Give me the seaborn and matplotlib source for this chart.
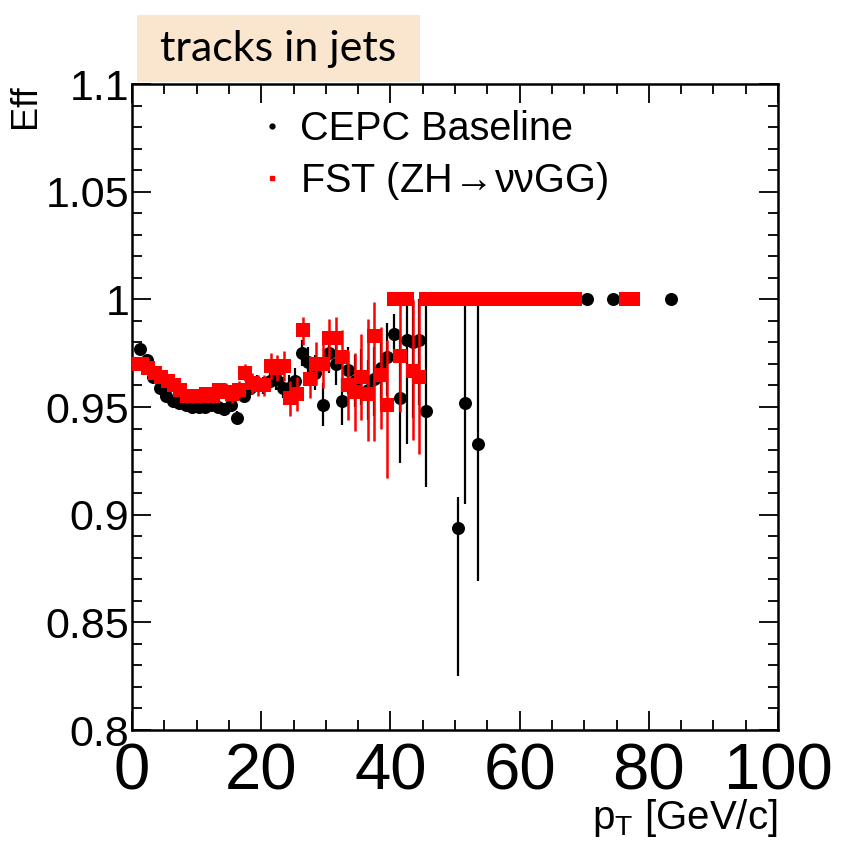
import numpy as np
import pandas as pd
import matplotlib
matplotlib.use("Agg")
import matplotlib.pyplot as plt
from matplotlib.lines import Line2D
from matplotlib.patches import Rectangle
from matplotlib.ticker import MultipleLocator
import seaborn as sns

# ---- CEPC Baseline efficiency vs pT ----
base_pt = [1.3, 2.3, 3.3, 4.3, 5.3, 6.3, 7.3, 8.3, 9.3, 10.3, 11.3, 12.3, 13.3, 14.3,
           15.3, 16.3, 17.3, 18.3, 19.3, 20.3, 21.3, 22.3, 23.3, 24.3, 25.3, 26.3,
           27.3, 28.3, 29.5, 30.5, 31.5, 32.5, 33.5, 34.5, 35.5, 36.5, 37.5, 38.5,
           39.5, 40.5, 41.5, 42.5, 43.5, 44.5, 45.5, 46.5, 47.5, 48.5, 49.5, 50.5,
           51.5, 52.5, 53.5, 54.5, 55.5, 56.5, 57.5, 58.5, 59.5, 60.5, 61.5, 62.5,
           63.5, 64.5, 65.5, 66.5, 67.5, 68.5, 70.5, 74.5, 83.5]
base_eff = [0.977, 0.972, 0.964, 0.959, 0.955, 0.953, 0.952, 0.951, 0.950, 0.950,
            0.950, 0.951, 0.950, 0.949, 0.951, 0.945, 0.955, 0.959, 0.961, 0.960,
            0.962, 0.963, 0.959, 0.959, 0.962, 0.975, 0.971, 0.966, 0.951, 0.975,
            0.970, 0.9526, 0.967, 0.962, 0.964, 0.958, 0.963, 0.968, 0.973, 0.984,
            0.954, 0.981, 0.980, 0.981, 0.948, 1.0, 1.0, 1.0, 1.0, 0.894,
            0.952, 1.0, 0.933, 1.0, 1.0, 1.0, 1.0, 1.0, 1.0, 1.0, 1.0, 1.0,
            1.0, 1.0, 1.0, 1.0, 1.0, 1.0, 1.0, 1.0, 1.0]
base_err_lo = [0.002, 0.002, 0.002, 0.002, 0.002, 0.002, 0.002, 0.002, 0.002, 0.002,
               0.002, 0.002, 0.002, 0.003, 0.003, 0.003, 0.003, 0.003, 0.004, 0.004,
               0.004, 0.005, 0.005, 0.006, 0.006, 0.006, 0.007, 0.008, 0.010, 0.009,
               0.010, 0.011, 0.011, 0.012, 0.013, 0.014, 0.017, 0.016, 0.018, 0.012,
               0.030, 0.048, 0.035, 0.030, 0.035, 0.0, 0.0, 0.0, 0.0, 0.069,
               0.047, 0.0, 0.064, 0.0, 0.0, 0.0, 0.0, 0.0, 0.0, 0.0, 0.0, 0.0,
               0.0, 0.0, 0.0, 0.0, 0.0, 0.0, 0.0, 0.0, 0.0]
base_err_hi = [0.002, 0.002, 0.002, 0.002, 0.002, 0.002, 0.002, 0.002, 0.002, 0.002,
               0.002, 0.002, 0.002, 0.003, 0.003, 0.003, 0.003, 0.003, 0.004, 0.004,
               0.004, 0.005, 0.005, 0.006, 0.006, 0.006, 0.007, 0.008, 0.010, 0.009,
               0.010, 0.011, 0.011, 0.012, 0.013, 0.014, 0.015, 0.014, 0.016, 0.009,
               0.030, 0.019, 0.020, 0.019, 0.052, 0.0, 0.0, 0.0, 0.0, 0.014,
               0.048, 0.0, 0.067, 0.0, 0.0, 0.0, 0.0, 0.0, 0.0, 0.0, 0.0, 0.0,
               0.0, 0.0, 0.0, 0.0, 0.0, 0.0, 0.0, 0.0, 0.0]

# ---- FST (ZH -> vvGG) efficiency vs pT ----
fst_pt = [0.5, 1.5, 2.5, 3.5, 4.5, 5.5, 6.5, 7.5, 8.5, 9.5, 10.5, 11.5, 12.5, 13.5,
          14.5, 15.5, 16.5, 17.5, 18.5, 19.5, 20.5, 21.5, 22.5, 23.5, 24.5, 25.5,
          26.5, 27.5, 28.5, 29.5, 30.5, 31.5, 32.5, 33.5, 34.5, 35.5, 36.5, 37.5,
          38.5, 39.5, 40.5, 41.5, 42.5, 43.5, 44.5, 45.5, 46.5, 47.5, 48.5, 49.5,
          50.5, 51.5, 52.5, 53.5, 54.5, 55.5, 56.5, 57.5, 58.5, 59.5, 60.5, 61.5,
          62.5, 63.5, 64.5, 65.5, 66.5, 67.5, 68.5, 76.5, 77.5]
fst_eff = [0.970, 0.970, 0.968, 0.966, 0.964, 0.962, 0.960, 0.958, 0.955, 0.955,
           0.955, 0.956, 0.955, 0.958, 0.957, 0.956, 0.958, 0.966, 0.961, 0.960,
           0.960, 0.969, 0.968, 0.969, 0.954, 0.956, 0.986, 0.963, 0.970, 0.970,
           0.982, 0.982, 0.973, 0.960, 0.957, 0.964, 0.956, 0.983, 0.965, 0.951,
           1.0, 0.9735, 1.0, 0.9665, 0.964, 1.0, 1.0, 1.0, 1.0, 1.0,
           1.0, 1.0, 1.0, 1.0, 1.0, 1.0, 1.0, 1.0, 1.0, 1.0, 1.0, 1.0,
           1.0, 1.0, 1.0, 1.0, 1.0, 1.0, 1.0, 1.0, 1.0]
fst_err_lo = [0.002, 0.002, 0.002, 0.002, 0.002, 0.002, 0.002, 0.002, 0.003, 0.003,
              0.003, 0.003, 0.003, 0.003, 0.004, 0.004, 0.004, 0.004, 0.005, 0.005,
              0.005, 0.006, 0.006, 0.007, 0.008, 0.008, 0.007, 0.009, 0.010, 0.011,
              0.010, 0.012, 0.013, 0.016, 0.018, 0.020, 0.022, 0.049, 0.025, 0.034,
              0.0, 0.026, 0.0, 0.032, 0.036, 0.0, 0.0, 0.0, 0.0, 0.0,
              0.0, 0.0, 0.0, 0.0, 0.0, 0.0, 0.0, 0.0, 0.0, 0.0, 0.0, 0.0,
              0.0, 0.0, 0.0, 0.0, 0.0, 0.0, 0.0, 0.0, 0.0]
fst_err_hi = [0.002, 0.002, 0.002, 0.002, 0.002, 0.002, 0.002, 0.002, 0.003, 0.003,
              0.003, 0.003, 0.003, 0.003, 0.004, 0.004, 0.004, 0.004, 0.005, 0.005,
              0.005, 0.006, 0.006, 0.007, 0.008, 0.008, 0.006, 0.009, 0.010, 0.011,
              0.009, 0.010, 0.013, 0.016, 0.018, 0.020, 0.035, 0.016, 0.022, 0.030,
              0.0, 0.026, 0.0, 0.033, 0.036, 0.0, 0.0, 0.0, 0.0, 0.0,
              0.0, 0.0, 0.0, 0.0, 0.0, 0.0, 0.0, 0.0, 0.0, 0.0, 0.0, 0.0,
              0.0, 0.0, 0.0, 0.0, 0.0, 0.0, 0.0, 0.0, 0.0]

series_labels = ["CEPC Baseline", "FST (ZH$\\!\\rightarrow\\!$\u03bd\u03bdGG)"]
x_ticks = [0, 20, 40, 60, 80, 100]
y_ticks = [0.8, 0.85, 0.9, 0.95, 1.0, 1.05, 1.1]
y_tick_labels = ["0.8", "0.85", "0.9", "0.95", "1", "1.05", "1.1"]

base_df = pd.DataFrame({"pt": base_pt, "eff": base_eff})
fst_df = pd.DataFrame({"pt": fst_pt, "eff": fst_eff})

sns.set_theme(style="ticks")
plt.rcParams["font.family"] = ["Liberation Sans", "DejaVu Sans"]
plt.rcParams["mathtext.fontset"] = "custom"
plt.rcParams["mathtext.rm"] = "Liberation Sans"
for key in ("text.color", "axes.labelcolor", "xtick.color", "ytick.color",
            "xtick.labelcolor", "ytick.labelcolor"):
    plt.rcParams[key] = "black"

fig = plt.figure(figsize=(8.43, 8.47), dpi=100)
ax = fig.add_axes([0.1566, 0.1381, 0.7663, 0.7627])

# error bars first, markers drawn over them; FST layer sits above the baseline
ax.errorbar(base_pt, base_eff, yerr=[base_err_lo, base_err_hi], fmt="none",
            ecolor="black", elinewidth=1.6, capsize=0, zorder=2)
sns.scatterplot(data=base_df, x="pt", y="eff", ax=ax, color="black", marker="o",
                s=88, linewidth=0, zorder=3, legend=False)
ax.errorbar(fst_pt, fst_eff, yerr=[fst_err_lo, fst_err_hi], fmt="none",
            ecolor="#ff0000", elinewidth=1.8, capsize=0, zorder=4)
sns.scatterplot(data=fst_df, x="pt", y="eff", ax=ax, color="#ff0000", marker="s",
                s=100, linewidth=0, zorder=5, legend=False)

ax.set_xlim(0, 100)
ax.set_ylim(0.8, 1.1)
ax.set_xticks(x_ticks)
ax.set_xticklabels([str(t) for t in x_ticks])
ax.set_yticks(y_ticks)
ax.set_yticklabels(y_tick_labels)
ax.xaxis.set_minor_locator(MultipleLocator(5))
ax.yaxis.set_minor_locator(MultipleLocator(0.01))
ax.tick_params(which="both", direction="in", top=True, right=True, width=1.3,
               color="black")
ax.tick_params(which="major", length=14)
ax.tick_params(which="minor", length=7)
ax.tick_params(axis="x", which="major", labelsize=47, pad=9)
ax.tick_params(axis="y", which="major", labelsize=31, pad=2)
for sp in ax.spines.values():
    sp.set_visible(True)
    sp.set_linewidth(1.8)
    sp.set_color("black")

ax.set_xlabel(r"p$_{\mathrm{T}}$ [GeV/c]", fontsize=29, loc="right", labelpad=-4)
ax.set_ylabel("Eff", fontsize=26, loc="top", labelpad=2)

handles = [
    Line2D([], [], linestyle="none", marker="o", color="black", markersize=3.5),
    Line2D([], [], linestyle="none", marker="s", color="#ff0000", markersize=3.5),
]
ax.legend(handles, series_labels, loc="upper left", bbox_to_anchor=(0.205, 0.96),
          frameon=False, fontsize=28.5, handlelength=0.4, handletextpad=0.5,
          labelspacing=0.3, borderpad=0, borderaxespad=0)

# caption box above the frame
fig.patches.append(Rectangle((137 / 843, 1 - 82 / 847), (420 - 137) / 843, 67 / 847,
                             transform=fig.transFigure, facecolor="#fae6ce",
                             edgecolor="none", zorder=0))
fig.text(((137 + 420) / 2) / 843, 1 - 49 / 847, "tracks in jets", fontsize=31,
         family=["Lato", "DejaVu Sans"], ha="center", va="center", color="black")

fig.savefig("out.png", dpi=100)
